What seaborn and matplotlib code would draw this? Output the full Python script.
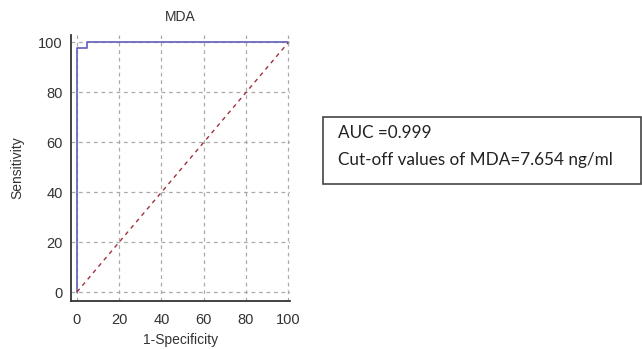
import matplotlib
matplotlib.use("Agg")
import matplotlib.pyplot as plt
import seaborn as sns
import pandas as pd
from matplotlib.patches import Rectangle
from matplotlib.ticker import MultipleLocator

# ROC curve points (1-specificity, sensitivity)
roc_fpr = [0, 0, 5, 5, 100]
roc_tpr = [0, 97.6, 97.6, 100, 100]
diag_x = [0, 100]
diag_y = [0, 100]
title = "MDA"
auc_text = "AUC =0.999"
cutoff_text = "Cut-off values of MDA=7.654 ng/ml"

sns.set_style("white")
plt.rcParams['font.family'] = ['Liberation Sans', 'DejaVu Sans']

fig = plt.figure(figsize=(6.42, 3.49), dpi=100)
ax = fig.add_axes([71 / 642, 48 / 349, 219 / 642, 266 / 349])

roc = pd.DataFrame({"x": roc_fpr, "y": roc_tpr})
diag = pd.DataFrame({"x": diag_x, "y": diag_y})
sns.lineplot(data=roc, x="x", y="y", ax=ax, color="#6b6bbd", lw=1.3, sort=False, estimator=None)
sns.lineplot(data=diag, x="x", y="y", ax=ax, color="#a0323c", lw=1.0, linestyle=(0, (3, 3)))

ax.set_xlim(-2.8, 100.8)
ax.set_ylim(-3.6, 103)
ax.xaxis.set_major_locator(MultipleLocator(20))
ax.yaxis.set_major_locator(MultipleLocator(20))
ax.xaxis.set_minor_locator(MultipleLocator(5))
ax.yaxis.set_minor_locator(MultipleLocator(5))
ax.tick_params(which="major", direction="in", length=5, width=1, labelsize=10.5, colors="#333333")
ax.tick_params(axis="x", which="major", pad=9)
ax.tick_params(axis="y", which="major", pad=6)
ax.tick_params(which="minor", direction="in", length=3, width=1, colors="#333333")
ax.grid(True, which="major", linestyle=(0, (3, 3)), color="#aaaaaa", lw=0.9)
for s in ["top", "right"]:
    ax.spines[s].set_visible(False)
for s in ["left", "bottom"]:
    ax.spines[s].set_color("#333333")
    ax.spines[s].set_linewidth(1.3)

ax.set_title(title, fontsize=10, color="#333333", pad=10)
ax.set_xlabel("1-Specificity", fontsize=10, color="#333333", labelpad=4)
ax.set_ylabel("Sensitivity", fontsize=10, color="#333333", labelpad=10)

fig.patches.append(Rectangle((323 / 642, (349 - 184) / 349), 318 / 642, 67 / 349,
                             transform=fig.transFigure, fill=False, edgecolor="#444444", lw=1.2))
fig.text(338 / 642, (349 - 133) / 349, auc_text, fontsize=12.3, family=["Lato", "DejaVu Sans"],
         va="center", color="#222222")
fig.text(338 / 642, (349 - 160) / 349, cutoff_text, fontsize=12.3, family=["Lato", "DejaVu Sans"],
         va="center", color="#222222")

fig.savefig("out.png", dpi=100)
